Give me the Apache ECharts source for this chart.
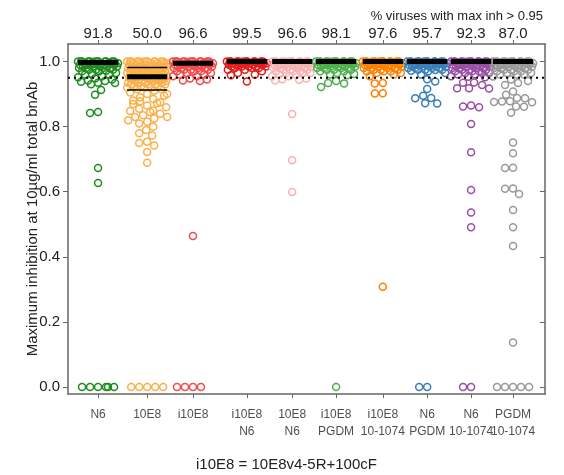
<!DOCTYPE html>
<html>
<head>
<meta charset="utf-8">
<script src="https://cdn.jsdelivr.net/npm/echarts@6/dist/echarts.min.js"></script>
<style>
  html, body { margin: 0; padding: 0; background: #fff; }
  #chart { width: 564px; height: 475px; }
</style>
</head>
<body>
<div id="chart"></div>
<script>
// categories, where they sit on the x axis, and the % labels on top
const categories = ['N6', '10E8', 'i10E8', 'i10E8\nN6', '10E8\nN6', 'i10E8\nPGDM', 'i10E8\n10-1074', 'N6\nPGDM', 'N6\n10-1074', 'PGDM\n10-1074']
const xPositions = [0.63, 1.66, 2.62, 3.75, 4.70, 5.62, 6.60, 7.53, 8.45, 9.33]
const percentLabels = ['91.8', '50.0', '96.6', '99.5', '96.6', '98.1', '97.6', '95.7', '92.3', '87.0']
const colors = ['#1e8c1e', '#fbb04b', '#f44a4a', '#e41a1c', '#f7b2b2', '#4daf4a', '#ff7f00', '#377eb8', '#984ea3', '#999999']
const medians = [0.997, 0.953, 0.995, 1.0, 1.0, 1.0, 1.0, 1.0, 1.0, 1.0]
const quartiles10E8 = [0.913, 0.982]
const threshold = 0.95
const yTicks = [0, 0.2, 0.4, 0.6, 0.8, 1.0]

const valuesN6 = [
  1, 1, 1, 1, 1, 1, 1, 1, 1, 1, 1, 1,
  0.995, 0.995, 0.995, 0.995, 0.995, 0.995, 0.995, 0.995,
  0.99, 0.99, 0.99, 0.99, 0.99, 0.99,
  0.985, 0.985, 0.985, 0.985, 0.985,
  0.98, 0.98, 0.98, 0.98,
  0.975, 0.975, 0.975,
  0.972, 0.97, 0.97,
  0.965, 0.962, 0.96, 0.96,
  0.955, 0.952,
  0.948, 0.945, 0.942, 0.94, 0.938, 0.935, 0.934, 0.93, 0.913, 0.898,
  0.845, 0.842, 0.673, 0.627,
  0, 0, 0, 0, 0, 0
]
const values10E8 = [
  1, 1, 1, 1, 1, 1, 1, 1, 1, 1, 1, 1,
  0.995, 0.995, 0.995, 0.995, 0.995, 0.995,
  0.99, 0.99, 0.99, 0.99, 0.99, 0.99,
  0.985, 0.985, 0.985, 0.985, 0.985, 0.985,
  0.98, 0.98, 0.98, 0.98, 0.98,
  0.975, 0.975, 0.975, 0.975, 0.975,
  0.97, 0.97, 0.97, 0.97, 0.97,
  0.965, 0.965, 0.965, 0.965, 0.965,
  0.96, 0.96, 0.96, 0.96, 0.96,
  0.955, 0.955, 0.955, 0.955, 0.955,
  0.95, 0.95, 0.95, 0.95, 0.95,
  0.945, 0.945, 0.945, 0.945, 0.945,
  0.94, 0.94, 0.94, 0.94, 0.94,
  0.935, 0.935, 0.935, 0.935,
  0.93, 0.93, 0.93, 0.93,
  0.925, 0.925, 0.925,
  0.92, 0.92, 0.92,
  0.915, 0.915,
  0.91, 0.905, 0.9, 0.9, 0.895, 0.89, 0.885, 0.88, 0.878, 0.875, 0.872, 0.87,
  0.865, 0.86, 0.855, 0.85, 0.848, 0.845, 0.84, 0.835, 0.83, 0.83, 0.825, 0.82,
  0.815, 0.81, 0.8, 0.79, 0.78, 0.773, 0.754, 0.75, 0.742, 0.722, 0.689,
  0, 0, 0, 0, 0
]
const valuesI10E8 = [
  1, 1, 1, 1, 1, 1, 1, 1, 1, 1, 1, 1,
  0.995, 0.995, 0.995, 0.995, 0.995, 0.995, 0.995, 0.995,
  0.99, 0.99, 0.99, 0.99, 0.99, 0.99,
  0.985, 0.985, 0.985, 0.985, 0.985,
  0.98, 0.98, 0.98, 0.98,
  0.975, 0.975, 0.975,
  0.97, 0.97, 0.97,
  0.965, 0.965, 0.96, 0.96, 0.955, 0.955,
  0.948, 0.945, 0.942, 0.94,
  0.464,
  0, 0, 0, 0
]
const valuesI10E8N6 = [
  1, 1, 1, 1, 1, 1, 1, 1, 1, 1, 1, 1,
  0.995, 0.995, 0.995, 0.995, 0.995, 0.995, 0.995, 0.995,
  0.99, 0.99, 0.99, 0.99, 0.99, 0.99,
  0.985, 0.985, 0.985, 0.985, 0.985,
  0.98, 0.98, 0.98,
  0.975, 0.975,
  0.97, 0.965, 0.96, 0.958, 0.939
]
const values10E8N6 = [
  1, 1, 1, 1, 1, 1, 1, 1, 1, 1, 1, 1,
  0.995, 0.995, 0.995, 0.995, 0.995, 0.995, 0.995, 0.995,
  0.99, 0.99, 0.99, 0.99, 0.99, 0.99,
  0.985, 0.985, 0.985, 0.985, 0.985,
  0.98, 0.98, 0.98, 0.98,
  0.975, 0.975, 0.975,
  0.97, 0.97, 0.97,
  0.965, 0.965, 0.965,
  0.96, 0.96, 0.955, 0.955,
  0.948, 0.946, 0.944, 0.942,
  0.839, 0.697, 0.599
]
const valuesI10E8PGDM = [
  1, 1, 1, 1, 1, 1, 1, 1, 1, 1, 1, 1,
  0.995, 0.995, 0.995, 0.995, 0.995, 0.995, 0.995, 0.995,
  0.99, 0.99, 0.99, 0.99, 0.99, 0.99,
  0.985, 0.985, 0.985, 0.985, 0.985,
  0.98, 0.98, 0.98, 0.98,
  0.975, 0.975, 0.975,
  0.97, 0.97, 0.965, 0.962, 0.96, 0.958,
  0.94, 0.934, 0.933, 0.922,
  0
]
const valuesI10E8_10_1074 = [
  1, 1, 1, 1, 1, 1, 1, 1, 1, 1, 1, 1,
  0.995, 0.995, 0.995, 0.995, 0.995, 0.995, 0.995, 0.995,
  0.99, 0.99, 0.99, 0.99, 0.99, 0.99,
  0.985, 0.985, 0.985, 0.985, 0.985,
  0.98, 0.98, 0.98, 0.98,
  0.975, 0.975, 0.975,
  0.97, 0.97, 0.97,
  0.965, 0.965, 0.96, 0.955,
  0.934, 0.933, 0.903, 0.902,
  0.308
]
const valuesN6PGDM = [
  1, 1, 1, 1, 1, 1, 1, 1, 1, 1, 1, 1,
  0.995, 0.995, 0.995, 0.995, 0.995, 0.995, 0.995, 0.995,
  0.99, 0.99, 0.99, 0.99, 0.99, 0.99,
  0.985, 0.985, 0.985, 0.985, 0.985,
  0.98, 0.98, 0.98, 0.98,
  0.975, 0.975, 0.975,
  0.974, 0.972, 0.97, 0.965, 0.96,
  0.946, 0.939, 0.916, 0.895, 0.888, 0.887, 0.872, 0.871,
  0, 0
]
const valuesN6_10_1074 = [
  1, 1, 1, 1, 1, 1, 1, 1, 1, 1, 1, 1,
  0.995, 0.995, 0.995, 0.995, 0.995, 0.995, 0.995, 0.995,
  0.99, 0.99, 0.99, 0.99, 0.99, 0.99,
  0.985, 0.985, 0.985, 0.985, 0.985,
  0.98, 0.98, 0.98, 0.98,
  0.975, 0.975, 0.975,
  0.97, 0.97, 0.97,
  0.965, 0.965, 0.965,
  0.96, 0.96, 0.955, 0.953, 0.952,
  0.936, 0.935, 0.928, 0.918, 0.918, 0.917,
  0.865, 0.862, 0.86, 0.808, 0.721, 0.605, 0.536, 0.491,
  0, 0
]
const valuesPGDM10_1074 = [
  1, 1, 1, 1, 1, 1, 1, 1, 1, 1, 1, 1,
  0.995, 0.995, 0.995, 0.995, 0.995, 0.995, 0.995, 0.995,
  0.99, 0.99, 0.99, 0.99, 0.99, 0.99,
  0.985, 0.985, 0.985, 0.985, 0.985,
  0.98, 0.98, 0.98, 0.98,
  0.975, 0.975, 0.975,
  0.97, 0.97, 0.97,
  0.965, 0.965,
  0.96, 0.96, 0.96, 0.954,
  0.945, 0.94, 0.934, 0.928, 0.908, 0.898, 0.888, 0.887,
  0.878, 0.877, 0.876, 0.875, 0.862, 0.861, 0.843,
  0.751, 0.718, 0.674, 0.673, 0.61, 0.609, 0.593, 0.544, 0.491, 0.433, 0.137,
  0, 0, 0, 0, 0
]
const groups = [valuesN6, values10E8, valuesI10E8, valuesI10E8N6, values10E8N6,
  valuesI10E8PGDM, valuesI10E8_10_1074, valuesN6PGDM, valuesN6_10_1074, valuesPGDM10_1074]

const FONT = 'Liberation Sans, Arial, sans-serif'
const Y_MIN = -0.0215, Y_MAX = 1.054
// pixels per data unit, from grid size (477 x 350)
const PX_X = 477 / 10, PX_Y = 350 / (Y_MAX - Y_MIN)
const DIAM = 7.5, HALF = 20, HALF_W = 0.42

// simple beeswarm: nudge sideways until no overlap, cap at HALF px
function swarm(values, cx) {
  const placed = []
  let spill = 0
  return values.slice().sort((a, b) => b - a).map(v => {
    const py = v * PX_Y
    let off = null
    for (let k = 0; k <= 2 * HALF; k++) {
      const o = (k % 2 ? -1 : 1) * Math.ceil(k / 2)
      if (placed.every(p => Math.hypot(p[0] - o, p[1] - py) >= DIAM)) { off = o; break }
    }
    if (off === null) {
      off = -HALF + (spill * 17) % (2 * HALF + 1)
      spill++
    }
    placed.push([off, py])
    return [cx + off / PX_X, v]
  })
}

function nearestIndex(v) {
  let best = 0
  xPositions.forEach((p, i) => { if (Math.abs(p - v) < Math.abs(xPositions[best] - v)) best = i })
  return best
}

const series = []
groups.forEach((vals, i) => {
  series.push({
    type: 'scatter',
    data: swarm(vals, xPositions[i]),
    symbol: 'circle',
    symbolSize: 7,
    silent: true,
    z: 2,
    itemStyle: { color: 'rgba(255,255,255,0)', borderColor: colors[i], borderWidth: 1.5, opacity: 1 }
  })
})
medians.forEach((m, i) => {
  series.push({
    type: 'line',
    data: [[xPositions[i] - HALF_W, m], [xPositions[i] + HALF_W, m]],
    symbol: 'none',
    silent: true,
    z: 4,
    lineStyle: { color: '#000', width: 5 }
  })
})
quartiles10E8.forEach(q => {
  series.push({
    type: 'line',
    data: [[xPositions[1] - HALF_W, q], [xPositions[1] + HALF_W, q]],
    symbol: 'none',
    silent: true,
    z: 4,
    lineStyle: { color: '#000', width: 1.5 }
  })
})
series.push({
  type: 'line',
  data: [[0, threshold], [10, threshold]],
  symbol: 'none',
  silent: true,
  z: 5,
  lineStyle: { color: '#000', width: 2, type: [2, 4] }
})
// category names under the axis (two lines each)
series.push({
  type: 'scatter',
  data: xPositions.map((x, i) => ({ value: [x, Y_MIN], name: categories[i] })),
  symbolSize: 0,
  silent: true,
  clip: false,
  label: {
    show: true,
    position: 'bottom',
    distance: 12,
    formatter: p => p.name,
    fontFamily: FONT, fontSize: 12, color: '#222', lineHeight: 17, align: 'center'
  }
})

const axisLine = { show: true, onZero: false, lineStyle: { color: '#666', width: 1.5 } }
const chart = echarts.init(document.getElementById('chart'))
chart.setOption({
  animation: false,
  title: {
    text: '% viruses with max inh > 0.95',
    right: 16,
    top: 5,
    textStyle: { fontFamily: FONT, fontSize: 13, fontWeight: 'normal', color: '#222' }
  },
  grid: { left: 68, right: 19, top: 44, bottom: 81 },
  xAxis: [
    {
      type: 'value', position: 'bottom', min: 0, max: 10,
      axisLine: axisLine,
      splitLine: { show: false },
      axisTick: { show: true, customValues: xPositions, length: 4, lineStyle: { color: '#666' } },
      axisLabel: { show: false }
    },
    {
      type: 'value', position: 'top', min: 0, max: 10,
      axisLine: axisLine,
      splitLine: { show: false },
      axisTick: { show: true, customValues: xPositions, length: 4, lineStyle: { color: '#666' } },
      axisLabel: {
        customValues: xPositions,
        showMinLabel: true, showMaxLabel: true, hideOverlap: false,
        formatter: v => percentLabels[nearestIndex(v)],
        fontFamily: FONT, fontSize: 15, color: '#222', margin: 3
      }
    }
  ],
  yAxis: [
    {
      type: 'value', position: 'left', min: Y_MIN, max: Y_MAX,
      name: 'Maximum inhibition at 10µg/ml total bnAb',
      nameLocation: 'middle', nameGap: 28, nameMoveOverlap: false,
      nameTextStyle: { fontFamily: FONT, fontSize: 15, color: '#222' },
      axisLine: axisLine,
      splitLine: { show: false },
      axisTick: { show: true, customValues: yTicks, length: 5, lineStyle: { color: '#666' } },
      axisLabel: {
        customValues: yTicks,
        formatter: v => v.toFixed(1),
        fontFamily: FONT, fontSize: 15, color: '#222', margin: 8
      }
    },
    {
      type: 'value', position: 'right', min: Y_MIN, max: Y_MAX,
      axisLine: axisLine,
      splitLine: { show: false },
      axisTick: { show: true, inside: true, customValues: yTicks, length: 5, lineStyle: { color: '#666' } },
      axisLabel: { show: false }
    }
  ],
  graphic: [
    {
      type: 'text', left: 196, top: 457,
      style: { text: 'i10E8 = 10E8v4-5R+100cF', font: '15px ' + FONT, fill: '#222' }
    }
  ],
  series: series
})
</script>
</body>
</html>
